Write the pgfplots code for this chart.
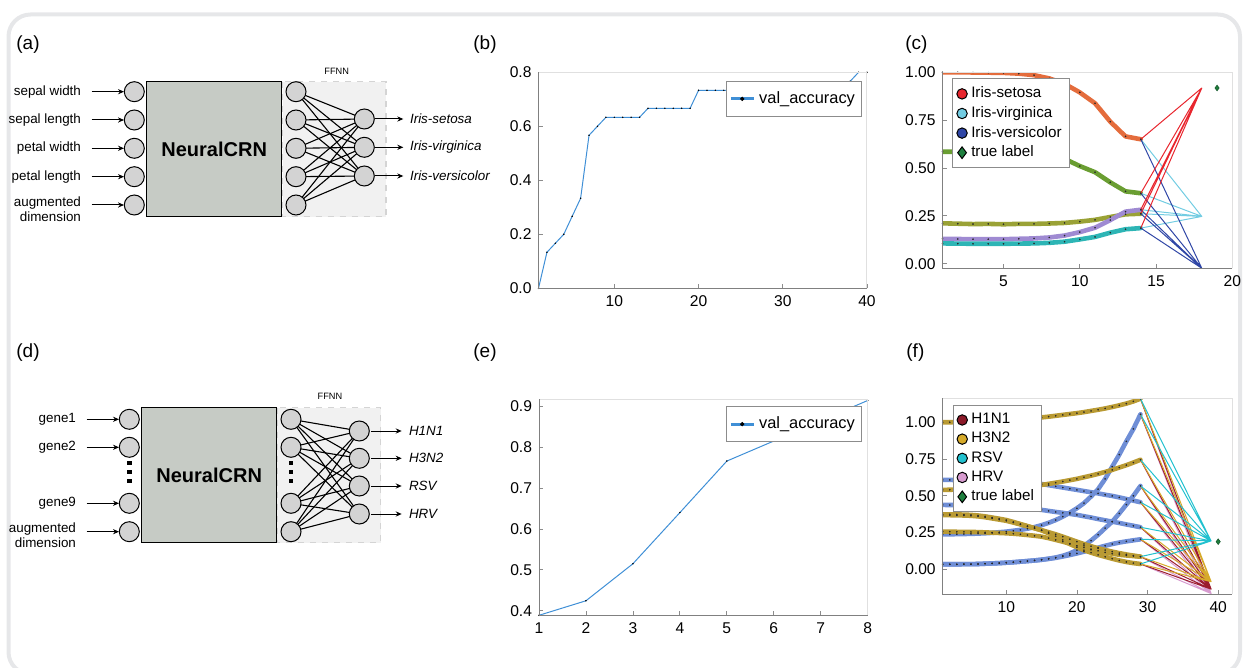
\documentclass[border=0pt]{standalone}
\usepackage{fontspec}
\setmainfont{Liberation Sans}
\usepackage{pgfplots}
\pgfplotsset{compat=1.18}
\usetikzlibrary{arrows.meta}

\definecolor{framegray}{HTML}{E6E7E9}
\definecolor{nodegray}{HTML}{D3D3D3}
\definecolor{crngray}{HTML}{C6CBC5}
\definecolor{ffnnfill}{HTML}{F1F1F1}
\definecolor{ffnnedge}{HTML}{D4D4D4}
\definecolor{accblue}{HTML}{3F8FD6}
\definecolor{cOrange}{HTML}{E46C3C}
\definecolor{cGreen}{HTML}{6A9E32}
\definecolor{cOlive}{HTML}{9AA236}
\definecolor{cPurple}{HTML}{9F8AD2}
\definecolor{cTeal}{HTML}{2DB5B5}
\definecolor{lRed}{HTML}{E8262E}
\definecolor{lCyan}{HTML}{72CCE2}
\definecolor{lBlue}{HTML}{2F46A6}
\definecolor{tGreen}{HTML}{1E7F3E}
\definecolor{fGold}{HTML}{B99A33}
\definecolor{fBlue}{HTML}{6F8ED6}
\definecolor{hRed}{HTML}{9B1C2E}
\definecolor{hGold}{HTML}{D6AA2A}
\definecolor{hCyan}{HTML}{22C1CF}
\definecolor{hPink}{HTML}{D79BCF}

\pgfplotsset{
  panel/.style={
    scale only axis, anchor=south west,
    axis line style={draw=none},
    tick pos=left, tick align=inside, major tick length=2pt,
    tick style={black!45, line width=0.4pt},
    ticklabel style={font=\fontsize{7.8}{9}\selectfont},
    /pgf/number format/assume math mode=true,
    after end axis/.code={
      \draw[black!12, line width=0.5pt] (rel axis cs:0,1) -- (rel axis cs:1,1) -- (rel axis cs:1,0);
      \draw[black!50, line width=0.5pt] (rel axis cs:0,1) -- (rel axis cs:0,0) -- (rel axis cs:1,0);
    },
    legend cell align=left,
  },
  acclegend/.style={
    legend style={draw=black!45, line width=0.5pt, fill=white, anchor=north west,
      font=\fontsize{8.2}{9.5}\selectfont, inner xsep=1.5pt, inner ysep=3pt},
    legend image code/.code={\draw[##1, mark repeat=2, mark phase=2] plot coordinates {(0cm,0cm) (0.2cm,0cm) (0.4cm,0cm)};},
  },
  riblegend/.style={
    legend style={draw=black!45, line width=0.5pt, fill=white, anchor=north west,
      font=\fontsize{7.6}{8.5}\selectfont, inner xsep=2pt, inner ysep=2pt, row sep=-1.2pt},
    legend image code/.code={\draw[##1] plot coordinates {(0.12cm,0cm)};},
  },
  rib/.style={line width=2.3pt, line cap=round, line join=round, mark=*, mark size=0.35pt,
    mark options={draw=black!85, fill=black!85, line width=0.1pt}, forget plot},
  acc/.style={accblue, line width=0.5pt, mark=*, mark size=0.3pt,
    mark options={draw=black, fill=black, line width=0.1pt}, forget plot},
  node/.style={only marks, mark=*, mark size=5pt, mark options={fill=nodegray, draw=black, line width=0.5pt}},
  arr/.style={black, line width=0.5pt, -{Stealth[length=3pt,width=2.6pt]}},
  conn/.style={black, line width=0.55pt, line join=round},
}

\begin{document}
\begin{tikzpicture}
\useasboundingbox (0,0) rectangle (621.5pt,334pt);

% frame, panel letters and the two network diagrams (pixel coordinates)
\begin{axis}[at={(0,0)}, anchor=south west, scale only axis, width=621.5pt, height=334pt,
  xmin=0, xmax=1243, ymin=0, ymax=668, y dir=reverse, hide axis, clip=false]
\draw[framegray, line width=2pt, rounded corners=11pt] (axis cs:8.5,14.5) rectangle (axis cs:1240,674);

\begin{scope}[font=\fontsize{9.5}{11}\selectfont]
\node[anchor=west, inner sep=0pt] at (axis cs:16,45) {(a)};
\node[anchor=west, inner sep=0pt] at (axis cs:473,45) {(b)};
\node[anchor=west, inner sep=0pt] at (axis cs:905,45) {(c)};
\node[anchor=west, inner sep=0pt] at (axis cs:16,353) {(d)};
\node[anchor=west, inner sep=0pt] at (axis cs:473,353) {(e)};
\node[anchor=west, inner sep=0pt] at (axis cs:906,353) {(f)};
\end{scope}

% ---- (a)
\fill[ffnnfill] (axis cs:282.7,81.7) rectangle (axis cs:386,216.7);
\draw[ffnnedge, dashed, line width=0.6pt] (axis cs:282.7,81.7) rectangle (axis cs:386,216.7);
\draw[fill=crngray, line width=0.6pt] (axis cs:146.7,81.7) rectangle (axis cs:281.7,216.7);
\node[font=\bfseries\fontsize{10}{12}\selectfont] at (axis cs:214.2,149) {NeuralCRN};
\node[font=\fontsize{4.6}{5}\selectfont] at (axis cs:336.7,71.7) {FFNN};
\addplot[conn] coordinates {(364.3,119) (296,91.7) (364.3,119) (296,120) (364.3,119) (296,148.3) (364.3,119) (296,176.7) (364.3,119) (296,205)};
\addplot[conn] coordinates {(364.3,147.3) (296,91.7) (364.3,147.3) (296,120) (364.3,147.3) (296,148.3) (364.3,147.3) (296,176.7) (364.3,147.3) (296,205)};
\addplot[conn] coordinates {(364.3,176) (296,91.7) (364.3,176) (296,120) (364.3,176) (296,148.3) (364.3,176) (296,176.7) (364.3,176) (296,205)};
\addplot[node] coordinates {(134.3,91.7) (134.3,120) (134.3,148.3) (134.3,176.7) (134.3,205)
  (296,91.7) (296,120) (296,148.3) (296,176.7) (296,205) (364.3,119) (364.3,147.3) (364.3,176)};
\addplot[arr] coordinates {(91.7,91.7) (124,91.7)};
\addplot[arr] coordinates {(91.7,120) (124,120)};
\addplot[arr] coordinates {(91.7,148.3) (124,148.3)};
\addplot[arr] coordinates {(91.7,176.7) (124,176.7)};
\addplot[arr] coordinates {(91.7,205) (124,205)};
\addplot[arr] coordinates {(375,119) (403.3,119)};
\addplot[arr] coordinates {(375,147.3) (403.3,147.3)};
\addplot[arr] coordinates {(375,176) (403.3,176)};
\begin{scope}[font=\fontsize{6.7}{7.6}\selectfont]
\node[anchor=east] at (axis cs:88,91.7) {sepal width};
\node[anchor=east] at (axis cs:88,120) {sepal length};
\node[anchor=east] at (axis cs:88,148.3) {petal width};
\node[anchor=east] at (axis cs:88,176.7) {petal length};
\node[anchor=east, align=right] at (axis cs:88,209) {augmented\\dimension};
\node[anchor=west, font=\itshape\fontsize{6.7}{7.6}\selectfont] at (axis cs:403,119) {Iris-setosa};
\node[anchor=west, font=\itshape\fontsize{6.7}{7.6}\selectfont] at (axis cs:403,147.3) {Iris-virginica};
\node[anchor=west, font=\itshape\fontsize{6.7}{7.6}\selectfont] at (axis cs:403,176) {Iris-versicolor};
\end{scope}

% ---- (d)
\fill[ffnnfill] (axis cs:277.3,407.7) rectangle (axis cs:380.7,542.7);
\draw[ffnnedge, dashed, line width=0.6pt] (axis cs:277.3,407.7) rectangle (axis cs:380.7,542.7);
\draw[fill=crngray, line width=0.6pt] (axis cs:141.7,407.7) rectangle (axis cs:276.7,542.7);
\node[font=\bfseries\fontsize{10}{12}\selectfont] at (axis cs:209.2,475.2) {NeuralCRN};
\node[font=\fontsize{4.6}{5}\selectfont] at (axis cs:330,396.7) {FFNN};
\addplot[conn] coordinates {(359.3,431) (291,419.3) (359.3,431) (291,447.3) (359.3,431) (291,503.3) (359.3,431) (291,531.7)};
\addplot[conn] coordinates {(359.3,458.3) (291,419.3) (359.3,458.3) (291,447.3) (359.3,458.3) (291,503.3) (359.3,458.3) (291,531.7)};
\addplot[conn] coordinates {(359.3,486) (291,419.3) (359.3,486) (291,447.3) (359.3,486) (291,503.3) (359.3,486) (291,531.7)};
\addplot[conn] coordinates {(359.3,514) (291,419.3) (359.3,514) (291,447.3) (359.3,514) (291,503.3) (359.3,514) (291,531.7)};
\addplot[node] coordinates {(129.3,419.3) (129.3,447.3) (129.3,503.3) (129.3,531.7)
  (291,419.3) (291,447.3) (291,503.3) (291,531.7) (359.3,431) (359.3,458.3) (359.3,486) (359.3,514)};
\addplot[only marks, mark=square*, mark size=0.8pt, black] coordinates {(129.3,463) (129.3,472) (129.3,481) (291,463) (291,472) (291,481)};
\addplot[arr] coordinates {(86.7,419.3) (119,419.3)};
\addplot[arr] coordinates {(86.7,447.3) (119,447.3)};
\addplot[arr] coordinates {(86.7,503.3) (119,503.3)};
\addplot[arr] coordinates {(86.7,531.7) (119,531.7)};
\addplot[arr] coordinates {(371,431) (401.7,431)};
\addplot[arr] coordinates {(371,458.3) (401.7,458.3)};
\addplot[arr] coordinates {(371,486) (401.7,486)};
\addplot[arr] coordinates {(371,514) (401.7,514)};
\begin{scope}[font=\fontsize{6.7}{7.6}\selectfont]
\node[anchor=east] at (axis cs:83,419.3) {gene1};
\node[anchor=east] at (axis cs:83,447.3) {gene2};
\node[anchor=east] at (axis cs:83,503.3) {gene9};
\node[anchor=east, align=right] at (axis cs:83,535.5) {augmented\\dimension};
\node[anchor=west, font=\itshape\fontsize{6.7}{7.6}\selectfont] at (axis cs:402,431) {H1N1};
\node[anchor=west, font=\itshape\fontsize{6.7}{7.6}\selectfont] at (axis cs:402,458.3) {H3N2};
\node[anchor=west, font=\itshape\fontsize{6.7}{7.6}\selectfont] at (axis cs:402,486) {RSV};
\node[anchor=west, font=\itshape\fontsize{6.7}{7.6}\selectfont] at (axis cs:402,514) {HRV};
\end{scope}
\end{axis}

% ---- (b) accuracy, iris
\begin{axis}[panel, acclegend, at={(269.25pt,189.85pt)}, width=164.25pt, height=108pt,
  xmin=1, xmax=40, ymin=0, ymax=0.8, xtick={10,20,30,40}, ytick={0,0.2,0.4,0.6,0.8},
  yticklabel style={/pgf/number format/.cd, fixed, fixed zerofill, precision=1},
  legend style={at={(0.57,0.96)}}]
\addlegendimage{accblue, line width=1.6pt, mark=*, mark size=0.9pt, mark options={fill=black, draw=black, line width=0.3pt}}
\addlegendentry{val\_accuracy}
\addplot[acc] coordinates {
(1,0) (2,0.1333) (3,0.1667) (4,0.2) (5,0.2667) (6,0.3333) (7,0.5667) (8,0.6) (9,0.6333) (10,0.6333)
(11,0.6333) (12,0.6333) (13,0.6333) (14,0.6667) (15,0.6667) (16,0.6667) (17,0.6667) (18,0.6667) (19,0.6667) (20,0.7333)
(21,0.7333) (22,0.7333) (23,0.7333) (24,0.7333) (25,0.7333) (26,0.7333) (27,0.7333) (28,0.7333) (29,0.7333) (30,0.7333)
(31,0.7333) (32,0.7333) (33,0.7333) (34,0.7333) (35,0.7333) (36,0.7333) (37,0.7333) (38,0.7667) (39,0.8) (40,0.8)};
\end{axis}

% ---- (e) accuracy, genes
\begin{axis}[panel, acclegend, at={(269.5pt,26.35pt)}, width=164.35pt, height=108pt,
  xmin=1, xmax=8, ymin=0.389, ymax=0.917, xtick={1,2,3,4,5,6,7,8}, ytick={0.4,0.5,0.6,0.7,0.8,0.9},
  yticklabel style={/pgf/number format/.cd, fixed, fixed zerofill, precision=1},
  legend style={at={(0.568,0.968)}}]
\addlegendimage{accblue, line width=1.6pt, mark=*, mark size=0.9pt, mark options={fill=black, draw=black, line width=0.3pt}}
\addlegendentry{val\_accuracy}
\addplot[acc] coordinates {
(1,0.389) (2,0.4245) (3,0.515) (4,0.640) (5,0.766) (6,0.815) (7,0.865) (8,0.914)};
\end{axis}

% ---- (c) trajectories, iris
\begin{axis}[panel, riblegend, at={(471.25pt,199.85pt)}, width=144.9pt, height=98pt,
  xmin=1, xmax=20, ymin=-0.024, ymax=1.0, xtick={5,10,15,20}, ytick={0,0.25,0.5,0.75,1},
  yticklabel style={/pgf/number format/.cd, fixed, fixed zerofill, precision=2},
  legend style={at={(0.034,0.969)}}]
\addlegendimage{only marks, mark=*, mark size=2.6pt, mark options={fill=lRed, draw=black, line width=0.5pt}}
\addlegendentry{Iris-setosa}
\addlegendimage{only marks, mark=*, mark size=2.6pt, mark options={fill=lCyan, draw=black, line width=0.5pt}}
\addlegendentry{Iris-virginica}
\addlegendimage{only marks, mark=*, mark size=2.6pt, mark options={fill=lBlue, draw=black, line width=0.5pt}}
\addlegendentry{Iris-versicolor}
\addlegendimage{only marks, mark=diamond*, mark size=2.9pt, mark options={fill=tGreen, draw=black, line width=0.5pt}}
\addlegendentry{true label}
\addplot[rib, cOrange] coordinates {(1,1.000) (2,1.000) (3,0.999) (4,0.998) (5,0.997) (6,0.993) (7,0.985) (8,0.968) (9,0.940) (10,0.895) (11,0.838) (12,0.742) (13,0.665) (14,0.650)};
\addplot[rib, cGreen] coordinates {(1,0.585) (2,0.585) (3,0.585) (4,0.584) (5,0.582) (6,0.578) (7,0.572) (8,0.562) (9,0.548) (10,0.510) (11,0.478) (12,0.425) (13,0.378) (14,0.368)};
\addplot[rib, cOlive] coordinates {(1,0.211) (2,0.209) (3,0.207) (4,0.208) (5,0.206) (6,0.208) (7,0.208) (8,0.210) (9,0.213) (10,0.220) (11,0.229) (12,0.244) (13,0.258) (14,0.261)};
\addplot[rib, cPurple] coordinates {(1,0.130) (2,0.129) (3,0.128) (4,0.128) (5,0.128) (6,0.130) (7,0.132) (8,0.137) (9,0.147) (10,0.165) (11,0.188) (12,0.228) (13,0.272) (14,0.282)};
\addplot[rib, cTeal] coordinates {(1,0.106) (2,0.105) (3,0.104) (4,0.104) (5,0.104) (6,0.105) (7,0.106) (8,0.109) (9,0.115) (10,0.127) (11,0.140) (12,0.162) (13,0.180) (14,0.186)};
\addplot[lCyan, line width=0.5pt, line join=round, forget plot] coordinates {(18,0.247) (14,0.650) (18,0.247) (14,0.368) (18,0.247) (14,0.282) (18,0.247) (14,0.261) (18,0.247) (14,0.186)};
\addplot[lBlue, line width=0.5pt, line join=round, forget plot] coordinates {(18,-0.024) (14,0.650) (18,-0.024) (14,0.368) (18,-0.024) (14,0.282) (18,-0.024) (14,0.261) (18,-0.024) (14,0.186)};
\addplot[lRed, line width=0.5pt, line join=round, forget plot] coordinates {(18,0.918) (14,0.650) (18,0.918) (14,0.368) (18,0.918) (14,0.282) (18,0.918) (14,0.261) (18,0.918) (14,0.186)};
\addplot[only marks, mark=diamond*, mark size=1.4pt, mark options={fill=tGreen, draw=tGreen!70!black, line width=0.3pt}, forget plot] coordinates {(19,0.918)};
\end{axis}

% ---- (f) trajectories, genes
\begin{axis}[panel, riblegend, at={(471.35pt,36.85pt)}, width=144.8pt, height=98pt,
  xmin=1, xmax=42, ymin=-0.17, ymax=1.163, xtick={10,20,30,40}, ytick={0,0.25,0.5,0.75,1},
  yticklabel style={/pgf/number format/.cd, fixed, fixed zerofill, precision=2},
  legend style={at={(0.034,0.967)}}]
\addlegendimage{only marks, mark=*, mark size=2.6pt, mark options={fill=hRed!90!black, draw=black, line width=0.5pt}}
\addlegendentry{H1N1}
\addlegendimage{only marks, mark=*, mark size=2.6pt, mark options={fill=hGold, draw=black, line width=0.5pt}}
\addlegendentry{H3N2}
\addlegendimage{only marks, mark=*, mark size=2.6pt, mark options={fill=hCyan, draw=black, line width=0.5pt}}
\addlegendentry{RSV}
\addlegendimage{only marks, mark=*, mark size=2.6pt, mark options={fill=hPink, draw=black, line width=0.5pt}}
\addlegendentry{HRV}
\addlegendimage{only marks, mark=diamond*, mark size=2.9pt, mark options={fill=tGreen, draw=black, line width=0.5pt}}
\addlegendentry{true label}
% blue trajectories
\addplot[rib, fBlue] coordinates {(1,0.608) (2,0.608) (3,0.607) (4,0.607) (5,0.606) (6,0.605) (7,0.604) (8,0.602) (9,0.600) (10,0.597) (11,0.594) (12,0.591) (13,0.587) (14,0.584) (15,0.580) (16,0.572) (17,0.564) (18,0.556) (19,0.548) (20,0.540) (21,0.532) (22,0.524) (23,0.516) (24,0.507) (25,0.499) (26,0.489) (27,0.478) (28,0.467) (29,0.456)};
\addplot[rib, fBlue] coordinates {(1,0.438) (2,0.437) (3,0.437) (4,0.436) (5,0.435) (6,0.434) (7,0.432) (8,0.430) (9,0.428) (10,0.426) (11,0.422) (12,0.418) (13,0.413) (14,0.409) (15,0.404) (16,0.397) (17,0.390) (18,0.384) (19,0.377) (20,0.370) (21,0.361) (22,0.352) (23,0.342) (24,0.333) (25,0.324) (26,0.315) (27,0.305) (28,0.296) (29,0.286)};
\addplot[rib, fBlue] coordinates {(1,0.238) (2,0.238) (3,0.239) (4,0.240) (5,0.241) (6,0.243) (7,0.245) (8,0.248) (9,0.252) (10,0.256) (11,0.262) (12,0.268) (13,0.276) (14,0.287) (15,0.300) (16,0.316) (17,0.335) (18,0.358) (19,0.385) (20,0.415) (21,0.450) (22,0.495) (23,0.545) (24,0.615) (25,0.698) (26,0.780) (27,0.870) (28,0.955) (29,1.054)};
\addplot[rib, fBlue] coordinates {(1,0.034) (2,0.034) (3,0.034) (4,0.035) (5,0.035) (6,0.036) (7,0.038) (8,0.040) (9,0.042) (10,0.045) (11,0.048) (12,0.052) (13,0.056) (14,0.060) (15,0.065) (16,0.072) (17,0.080) (18,0.092) (19,0.108) (20,0.130) (21,0.160) (22,0.195) (23,0.235) (24,0.280) (25,0.324) (26,0.380) (27,0.440) (28,0.500) (29,0.567)};
\addplot[rib, fBlue] coordinates {(1,0.034) (2,0.034) (3,0.034) (4,0.035) (5,0.035) (6,0.036) (7,0.038) (8,0.040) (9,0.042) (10,0.045) (11,0.048) (12,0.052) (13,0.056) (14,0.060) (15,0.065) (16,0.071) (17,0.078) (18,0.087) (19,0.097) (20,0.108) (21,0.120) (22,0.133) (23,0.147) (24,0.160) (25,0.172) (26,0.182) (27,0.190) (28,0.197) (29,0.204)};
% gold trajectories
\addplot[rib, fGold] coordinates {(1,1.000) (2,1.000) (3,1.001) (4,1.002) (5,1.003) (6,1.005) (7,1.007) (8,1.009) (9,1.012) (10,1.015) (11,1.018) (12,1.021) (13,1.025) (14,1.029) (15,1.033) (16,1.038) (17,1.044) (18,1.050) (19,1.056) (20,1.062) (21,1.069) (22,1.077) (23,1.085) (24,1.094) (25,1.104) (26,1.115) (27,1.127) (28,1.142) (29,1.160)};
\addplot[rib, fGold] coordinates {(1,0.540) (2,0.541) (3,0.542) (4,0.543) (5,0.545) (6,0.547) (7,0.549) (8,0.551) (9,0.554) (10,0.557) (11,0.560) (12,0.563) (13,0.566) (14,0.570) (15,0.574) (16,0.581) (17,0.589) (18,0.597) (19,0.606) (20,0.615) (21,0.626) (22,0.637) (23,0.649) (24,0.662) (25,0.676) (26,0.692) (27,0.708) (28,0.726) (29,0.745)};
\addplot[rib, fGold] coordinates {(1,0.374) (2,0.374) (3,0.373) (4,0.372) (5,0.370) (6,0.366) (7,0.360) (8,0.352) (9,0.344) (10,0.335) (11,0.322) (12,0.308) (13,0.294) (14,0.280) (15,0.265) (16,0.245) (17,0.225) (18,0.200) (19,0.172) (20,0.150) (21,0.130) (22,0.113) (23,0.098) (24,0.085) (25,0.072) (26,0.060) (27,0.050) (28,0.042) (29,0.036)};
\addplot[rib, fGold] coordinates {(1,0.368) (2,0.368) (3,0.367) (4,0.366) (5,0.364) (6,0.360) (7,0.354) (8,0.346) (9,0.338) (10,0.330) (11,0.318) (12,0.305) (13,0.292) (14,0.279) (15,0.266) (16,0.252) (17,0.238) (18,0.222) (19,0.205) (20,0.188) (21,0.172) (22,0.157) (23,0.143) (24,0.131) (25,0.120) (26,0.110) (27,0.101) (28,0.093) (29,0.086)};
\addplot[rib, fGold] coordinates {(1,0.256) (2,0.256) (3,0.255) (4,0.255) (5,0.254) (6,0.253) (7,0.251) (8,0.249) (9,0.247) (10,0.245) (11,0.242) (12,0.238) (13,0.233) (14,0.228) (15,0.222) (16,0.212) (17,0.200) (18,0.188) (19,0.174) (20,0.160) (21,0.148) (22,0.137) (23,0.126) (24,0.115) (25,0.106) (26,0.099) (27,0.094) (28,0.090) (29,0.086)};
% output layer
\addplot[hPink, line width=0.5pt, line join=round, forget plot] coordinates {(39,-0.165) (29,1.160) (39,-0.165) (29,1.054) (39,-0.165) (29,0.745) (39,-0.165) (29,0.567) (39,-0.165) (29,0.456) (39,-0.165) (29,0.286) (39,-0.165) (29,0.204) (39,-0.165) (29,0.086) (39,-0.165) (29,0.036)};
\addplot[hRed, line width=0.5pt, line join=round, forget plot] coordinates {(39,-0.135) (29,1.160) (39,-0.135) (29,1.054) (39,-0.135) (29,0.745) (39,-0.135) (29,0.567) (39,-0.135) (29,0.456) (39,-0.135) (29,0.286) (39,-0.135) (29,0.204) (39,-0.135) (29,0.086) (39,-0.135) (29,0.036)};
\addplot[hGold, line width=0.5pt, line join=round, forget plot] coordinates {(39,-0.084) (29,1.160) (39,-0.084) (29,1.054) (39,-0.084) (29,0.745) (39,-0.084) (29,0.567) (39,-0.084) (29,0.456) (39,-0.084) (29,0.286) (39,-0.084) (29,0.204) (39,-0.084) (29,0.086) (39,-0.084) (29,0.036)};
\addplot[hCyan, line width=0.5pt, line join=round, forget plot] coordinates {(39,0.193) (29,1.160) (39,0.193) (29,1.054) (39,0.193) (29,0.745) (39,0.193) (29,0.567) (39,0.193) (29,0.456) (39,0.193) (29,0.286) (39,0.193) (29,0.204) (39,0.193) (29,0.086) (39,0.193) (29,0.036)};
\addplot[only marks, mark=diamond*, mark size=1.4pt, mark options={fill=tGreen, draw=tGreen!70!black, line width=0.3pt}, forget plot] coordinates {(40,0.188)};
\end{axis}
\end{tikzpicture}
\end{document}
